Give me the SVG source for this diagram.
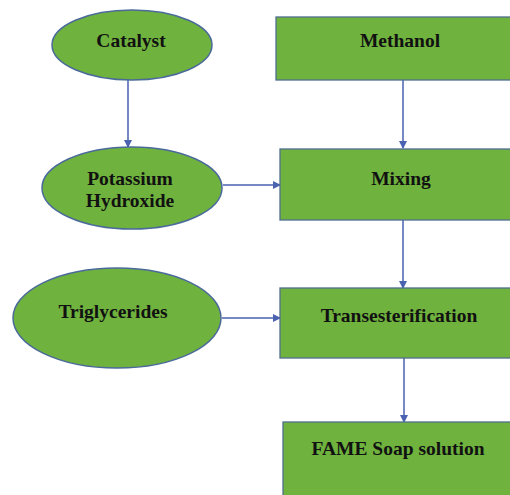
<svg xmlns="http://www.w3.org/2000/svg" width="510" height="495" viewBox="0 0 510 495">
<defs>
<style>
.n{fill:#6fb23e;stroke:#4a6a9a;stroke-width:1.5}
.r{fill:#6fb23e;stroke:#4f6f8f;stroke-width:1.3}
.t{font-family:"Liberation Serif","Times New Roman",serif;font-weight:bold;font-size:19.5px;fill:#111;text-anchor:middle}
.c{stroke:#4a62b0;stroke-width:1.5;fill:none;marker-end:url(#ah)}
</style>
<marker id="ah" markerWidth="8" markerHeight="8" refX="7" refY="4" orient="auto" markerUnits="userSpaceOnUse">
<path d="M0,0 L8,4 L0,8 Z" fill="#4a62b0"/>
</marker>
</defs>
<rect width="510" height="495" fill="#fff"/>
<g id="connectors">
<line class="c" x1="128" y1="80" x2="128" y2="147"/>
<line class="c" x1="403" y1="80" x2="403" y2="148"/>
<line class="c" x1="223" y1="185" x2="280" y2="185"/>
<line class="c" x1="403" y1="220" x2="403" y2="288"/>
<line class="c" x1="222" y1="318" x2="280" y2="318"/>
<line class="c" x1="404" y1="358" x2="404" y2="422"/>
</g>
<g id="catalyst"><ellipse class="n" cx="132" cy="45" rx="80" ry="35"/><text class="t" x="131" y="47">Catalyst</text></g>
<g id="methanol"><rect class="r" x="276" y="17" width="250" height="63"/><text class="t" x="400" y="47">Methanol</text></g>
<g id="koh"><ellipse class="n" cx="132" cy="188" rx="90" ry="41"/><text class="t" x="130" y="185">Potassium</text><text class="t" x="130" y="207">Hydroxide</text></g>
<g id="mixing"><rect class="r" x="280" y="149" width="246" height="71"/><text class="t" x="401" y="185">Mixing</text></g>
<g id="triglycerides"><ellipse class="n" cx="117" cy="318" rx="104" ry="50"/><text class="t" x="113" y="318">Triglycerides</text></g>
<g id="transesterification"><rect class="r" x="280" y="288" width="246" height="70"/><text class="t" x="399" y="322">Transesterification</text></g>
<g id="fame"><rect class="r" x="283" y="422" width="246" height="90"/><text class="t" x="398" y="455">FAME Soap solution</text></g>
</svg>
